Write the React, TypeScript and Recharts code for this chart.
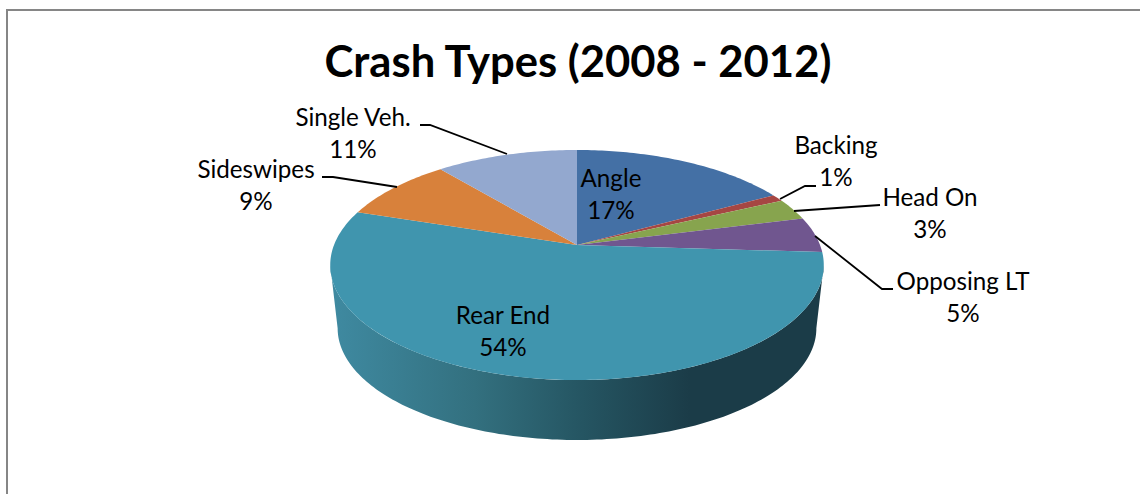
import { PieChart, Pie } from 'recharts';

const names = ['Angle', 'Backing', 'Head On', 'Opposing LT', 'Rear End', 'Sideswipes', 'Single Veh.'];
const shares = [17, 1, 3, 5, 54, 9, 11];
const sliceColors = ['#4470a5', '#a64643', '#87a44e', '#70568f', '#4095ae', '#d8813b', '#93a8cf'];

const pieData = names.map((name, i) => ({ name, value: shares[i], fill: sliceColors[i] }));

// where each label sits, and its leader line (same order as names)
const labelSpots = [
  { x: 611, y: 177, leader: '' },
  { x: 836, y: 144, leader: 'M780 199L805 186L816 186' },
  { x: 930, y: 196, leader: 'M794 211L880 205' },
  { x: 963, y: 280, leader: 'M815 236L882 289L893 289' },
  { x: 503, y: 314, leader: '' },
  { x: 256, y: 168, leader: 'M397 187L333 177L322 177' },
  { x: 353, y: 116, leader: 'M507 154L430 125L420 125' },
];

const FONT = 'Lato, sans-serif';

// tilt of the disc: squash of the plane and perspective pull towards the back
const SQUASH = 0.459;
const PERSPECTIVE = 0.174;
const WALL_SCALE = 0.97;
const WALL_DROP = 64;
// front wall runs between the two silhouette angles (degrees clockwise from top)
const WALL_FROM = 100;
const WALL_TO = 260;

const project = (cx: number, cy: number, r: number, clockDeg: number, lower = false) => {
  const a = (clockDeg * Math.PI) / 180;
  const w = 1 + PERSPECTIVE * Math.cos(a);
  const x = (r * Math.sin(a)) / w;
  const y = (-r * SQUASH * Math.cos(a)) / w;
  if (lower) return [cx + x * WALL_SCALE, cy + y * WALL_SCALE + WALL_DROP];
  return [cx + x, cy + y];
};

const arcPoints = (cx: number, cy: number, r: number, from: number, to: number, lower = false) => {
  const pts: number[][] = [];
  const steps = Math.max(2, Math.ceil(Math.abs(to - from)));
  for (let i = 0; i <= steps; i++) {
    pts.push(project(cx, cy, r, from + ((to - from) * i) / steps, lower));
  }
  return pts;
};

const toPath = (pts: number[][]) =>
  pts.map((p, i) => `${i ? 'L' : 'M'}${p[0].toFixed(2)} ${p[1].toFixed(2)}`).join('') + 'Z';

const TiltedSlice = (props: any) => {
  const { cx, cy, outerRadius, startAngle, endAngle, fill } = props;
  const from = 90 - startAngle;
  const to = 90 - endAngle;
  const top = [[cx, cy], ...arcPoints(cx, cy, outerRadius, from, to)];
  const wallFrom = Math.max(from, WALL_FROM);
  const wallTo = Math.min(to, WALL_TO);
  return (
    <g>
      {wallTo > wallFrom && (
        <path
          fill="url(#wallShade)"
          d={toPath([
            ...arcPoints(cx, cy, outerRadius, wallFrom, wallTo),
            ...arcPoints(cx, cy, outerRadius, wallTo, wallFrom, true),
          ])}
        />
      )}
      <path d={toPath(top)} fill={fill} />
    </g>
  );
};

const SliceLabel = (props: any) => {
  const { index, name, value } = props;
  const spot = labelSpots[index];
  return (
    <g>
      {spot.leader && <path d={spot.leader} fill="none" stroke="#000" strokeWidth={1.8} />}
      <text x={spot.x} y={spot.y} textAnchor="middle" dominantBaseline="central" fontFamily={FONT} fontSize={24.2} fill="#000">
        {name}
      </text>
      <text x={spot.x} y={spot.y + 32} textAnchor="middle" dominantBaseline="central" fontFamily={FONT} fontSize={24.2} fill="#000">
        {value}%
      </text>
    </g>
  );
};

export default function App() {
  return (
    <div style={{ position: 'absolute', left: 0, top: 0, width: 1140, height: 494, background: '#fff', overflow: 'hidden' }}>
      <div
        style={{
          position: 'absolute',
          left: 6,
          top: 9,
          width: 1140,
          height: 500,
          borderLeft: '2px solid #868686',
          borderTop: '2px solid #868686',
        }}
      />
      <div style={{ position: 'absolute', left: 0, top: 0 }}>
        <PieChart width={1140} height={494} margin={{ top: 0, right: 0, bottom: 0, left: 0 }}>
          <defs>
            <linearGradient id="wallShade" gradientUnits="userSpaceOnUse" x1="331" y1="0" x2="690" y2="0">
              <stop offset="0" stopColor="#3f8aa1" />
              <stop offset="0.4" stopColor="#33707f" />
              <stop offset="0.7" stopColor="#255562" />
              <stop offset="1" stopColor="#1b3c48" />
            </linearGradient>
          </defs>
          <text x={578} y={60} textAnchor="middle" dominantBaseline="central" fontFamily={FONT} fontWeight={700} fontSize={43.6} fill="#000">
            Crash Types (2008 - 2012)
          </text>
          <Pie
            data={pieData}
            dataKey="value"
            nameKey="name"
            cx={577}
            cy={245}
            innerRadius={0}
            outerRadius={243}
            startAngle={90}
            endAngle={-270}
            paddingAngle={0}
            stroke="none"
            shape={TiltedSlice}
            label={SliceLabel}
            labelLine={false}
            isAnimationActive={false}
          />
        </PieChart>
      </div>
    </div>
  );
}
